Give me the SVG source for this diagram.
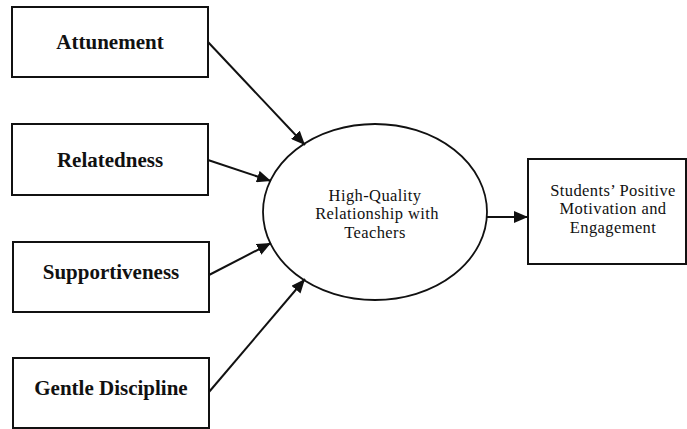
<svg xmlns="http://www.w3.org/2000/svg" width="687" height="429" viewBox="0 0 687 429">
  <style>
    .box { fill: #fff; stroke: #111; stroke-width: 2; }
    .oval { fill: #fff; stroke: #111; stroke-width: 1.8; }
    .lbl { font-family: "Liberation Serif", "Times New Roman", serif; font-weight: bold; font-size: 21px; fill: #111; text-anchor: middle; }
    .txt { font-family: "Liberation Serif", "Times New Roman", serif; font-size: 16.5px; letter-spacing: 0.4px; fill: #111; text-anchor: middle; }
    .link { stroke: #111; stroke-width: 2; fill: none; marker-end: url(#head); }
  </style>
  <defs>
    <marker id="head" viewBox="0 0 14 12" refX="14" refY="6" markerWidth="14" markerHeight="12" markerUnits="userSpaceOnUse" orient="auto">
      <path d="M0,0 L14,6 L0,12 Z" fill="#111"/>
    </marker>
  </defs>
  <rect width="687" height="429" fill="#fff"/>

  <g id="attunement">
    <rect class="box" x="12" y="7" width="196" height="70"/>
    <text class="lbl" x="110" y="49">Attunement</text>
  </g>
  <g id="relatedness">
    <rect class="box" x="12" y="124" width="196" height="71"/>
    <text class="lbl" x="110" y="167">Relatedness</text>
  </g>
  <g id="supportiveness">
    <rect class="box" x="13" y="242" width="196" height="70"/>
    <text class="lbl" x="111" y="279">Supportiveness</text>
  </g>
  <g id="gentle-discipline">
    <rect class="box" x="13" y="358" width="196" height="70"/>
    <text class="lbl" x="111" y="395">Gentle Discipline</text>
  </g>
  <g id="relationship">
    <ellipse class="oval" cx="375" cy="212" rx="112" ry="88"/>
    <text class="txt" x="375" y="201">High-Quality</text>
    <text class="txt" x="377" y="219.3">Relationship with</text>
    <text class="txt" x="375" y="237.6">Teachers</text>
  </g>
  <g id="outcome">
    <rect class="box" x="528" y="159" width="158" height="105"/>
    <text class="txt" x="613" y="196">Students’ Positive</text>
    <text class="txt" x="613" y="214.3">Motivation and</text>
    <text class="txt" x="613" y="232.6">Engagement</text>
  </g>

  <g id="connectors">
    <line class="link" x1="208" y1="42" x2="305" y2="145"/>
    <line class="link" x1="208" y1="160" x2="271" y2="181"/>
    <line class="link" x1="209" y1="275" x2="271" y2="243"/>
    <line class="link" x1="209" y1="392" x2="305" y2="279"/>
    <line class="link" x1="487" y1="217" x2="528" y2="217"/>
  </g>
</svg>
